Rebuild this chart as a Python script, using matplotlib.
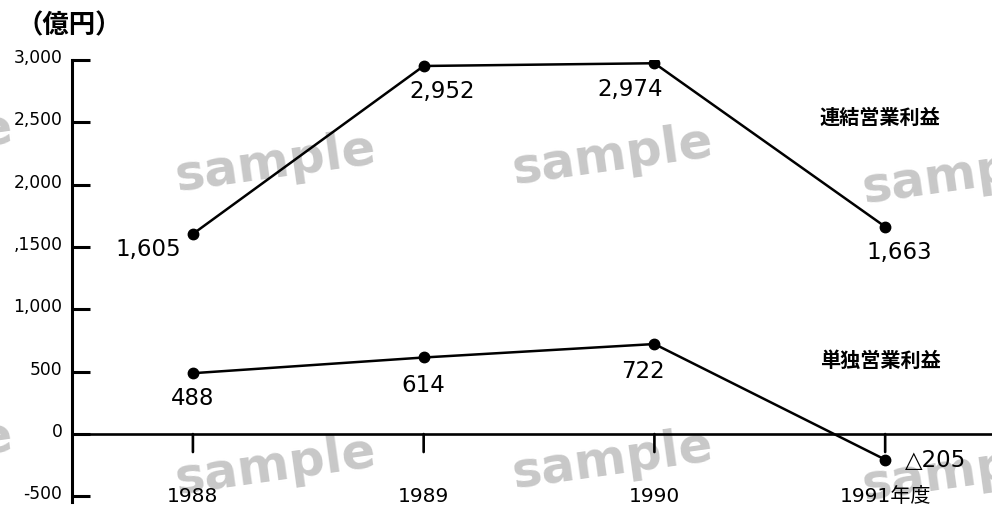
import numpy as np
import matplotlib
matplotlib.use('Agg')
import matplotlib.pyplot as plt
from matplotlib.transforms import ScaledTranslation

plt.rcParams['font.family'] = ['DejaVu Sans', 'Noto Sans CJK JP']

# -------- data --------
years = [1988, 1989, 1990, 1991]
year_labels = ['1988', '1989', '1990', '1991年度']
consolidated = [1605, 2952, 2974, 1663]
standalone = [488, 614, 722, -205]
cons_labels = ['1,605', '2,952', '2,974', '1,663']
stand_labels = ['488', '614', '722', '△205']
yticks = [-500, 0, 500, 1000, 1500, 2000, 2500, 3000]
ytick_labels = ['-500', '0', '500', '1,000', ',1500', '2,000', '2,500', '3,000']

W, H = 992, 506
PT = 0.72  # points per pixel at dpi 100

# -------- figure --------
fig = plt.figure(figsize=(W/100, H/100), dpi=100)
ax = fig.add_axes([72/W, 3/H, 1 - 72/W, (503-61)/H])
ax.set_zorder(1)
ax.patch.set_visible(False)
ax.set_xlim(1987.476, 1991.463)
ax.set_ylim(-545, 3000)

# watermarks (behind the chart)
wm = dict(color='#c8c8c8', fontsize=36, fontweight='bold', rotation=8,
          ha='center', va='center', zorder=0, family='DejaVu Sans')
for (x, y) in [(275, 163), (612, 156), (962, 175), (-88, 142),
               (275, 466), (612, 460), (962, 472), (-88, 450)]:
    fig.text(x/W, 1 - y/H, 'sample', **wm)

ax.plot(years, consolidated, color='black', lw=1.8, marker='o', ms=7.5, zorder=3)
ax.plot(years, standalone, color='black', lw=1.8, marker='o', ms=7.5, zorder=3)

# zero line and category ticks
ax.axhline(0, color='black', lw=1.9, zorder=2)
for x in years:
    ax.annotate('', (x, 0), xytext=(0, -18*PT), textcoords='offset points',
                arrowprops=dict(arrowstyle='-', lw=1.9, color='black',
                                shrinkA=0, shrinkB=0))

# spines / ticks
for s in ['top', 'right', 'bottom']:
    ax.spines[s].set_visible(False)
ax.spines['left'].set_linewidth(2.2)
ax.set_xticks([])
ax.set_yticks(yticks)
ax.set_yticklabels(ytick_labels, fontsize=12.3)
ax.tick_params(axis='y', direction='in', length=13, width=2.2, pad=7)
for lab in ax.get_yticklabels():
    lab.set_transform(lab.get_transform() + ScaledTranslation(0, 5/100, fig.dpi_scale_trans))

# data labels (offsets in pixels)
off_cons = [(-12, -15, 'right'), (18, -25, 'center'), (-24, -25, 'center'), (14, -25, 'center')]
for x, y, t, (dx, dy, ha) in zip(years, consolidated, cons_labels, off_cons):
    ax.annotate(t, (x, y), xytext=(dx*PT, dy*PT), textcoords='offset points',
                ha=ha, va='center', fontsize=16.5)
off_stand = [(0, -24, 'center'), (0, -27, 'center'), (-11, -26, 'center'), (20, 0, 'left')]
for x, y, t, (dx, dy, ha) in zip(years, standalone, stand_labels, off_stand):
    ax.annotate(t, (x, y), xytext=(dx*PT, dy*PT), textcoords='offset points',
                ha=ha, va='center', fontsize=16.5)

# category labels
for x, t in zip(years, year_labels):
    ax.annotate(t, (x, 0), xytext=(0, -61*PT), textcoords='offset points',
                ha='center', va='center', fontsize=14.5)

# series labels
fig.text(880/W, 1 - 117/H, '連結営業利益', ha='center', va='center',
         fontsize=14.5, fontweight='bold', family=['Noto Sans CJK JP', 'DejaVu Sans'])
fig.text(880/W, 1 - 360/H, '単独営業利益', ha='center', va='center',
         fontsize=14.5, fontweight='bold', family=['Noto Sans CJK JP', 'DejaVu Sans'])

# unit label
fig.text(16/W, 1 - 26/H, '（億円）', ha='left', va='center',
         fontsize=19, fontweight='bold', family=['Noto Sans CJK JP', 'DejaVu Sans'])

fig.savefig('out.png', dpi=100)
